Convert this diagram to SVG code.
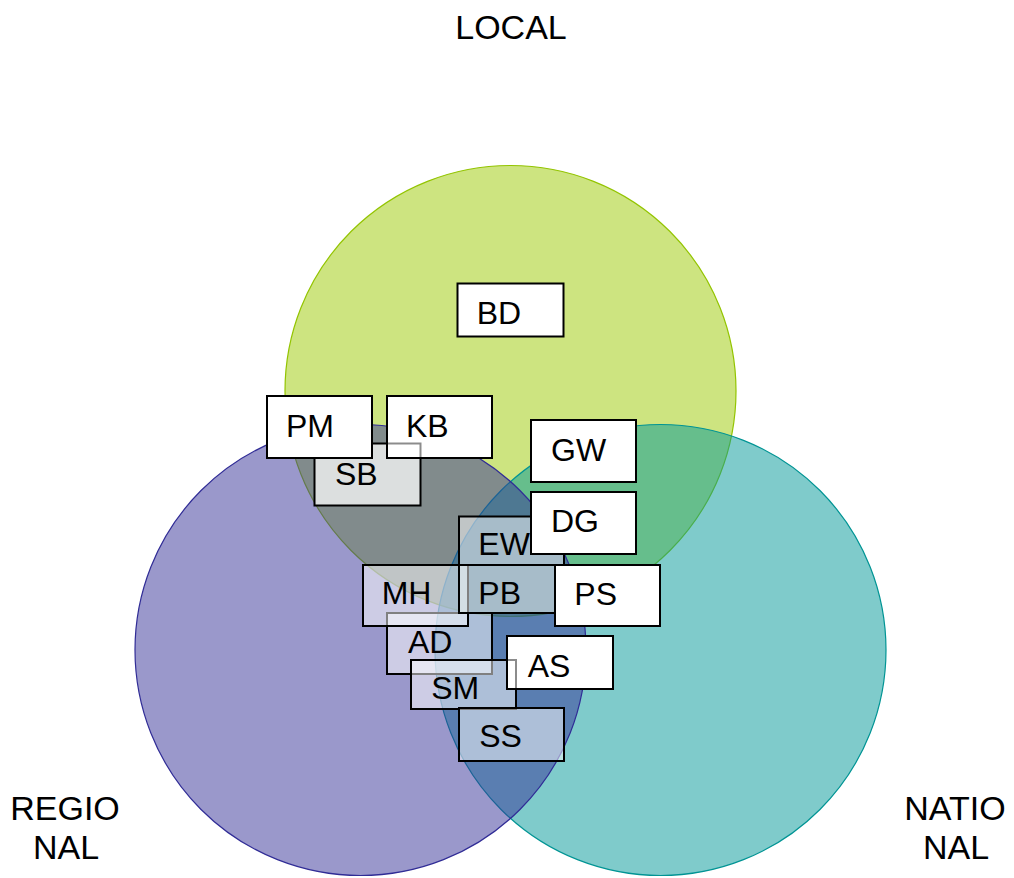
<svg xmlns="http://www.w3.org/2000/svg" width="1014" height="878" viewBox="0 0 1014 878">
<style>
.set{fill-opacity:0.5;stroke-width:1.2}
.title{font-family:"Liberation Sans",Arial,sans-serif;font-size:34px;fill:#000;text-anchor:middle}
.lbl{font-family:"Liberation Sans",Arial,sans-serif;font-size:32px;fill:#000}
.box{fill:#fff;stroke:#000;stroke-width:2}
.tint .box{fill-opacity:0.5}
.edge{stroke:#000;stroke-opacity:0.45;stroke-width:2;fill:none}
</style>
<rect width="1014" height="878" fill="#fff"/>
<g id="sets">
  <circle id="set-local" class="set" cx="510.5" cy="391" r="225.5" fill="#9bc901" stroke="#93c400"/>
  <circle id="set-national" class="set" cx="660.5" cy="650" r="225.5" fill="#009797" stroke="#009494"/>
  <circle id="set-regional" class="set" cx="360.5" cy="650" r="225.5" fill="#353197" stroke="#302c96"/>
</g>
<g id="titles">
  <text class="title" x="511" y="38.5">LOCAL</text>
  <text class="title" x="65" y="819.5">REGIO</text>
  <text class="title" x="66" y="858.5">NAL</text>
  <text class="title" x="955" y="819.5">NATIO</text>
  <text class="title" x="956" y="858.5">NAL</text>
</g>
<g id="connectors"></g>
<g id="node-SB" class="tint"><rect class="box" x="314.5" y="443.5" width="106" height="62" style="fill-opacity:0.72"/><text class="lbl" x="335" y="484.5">SB</text></g>
<g id="node-EW" class="tint"><rect class="box" x="459" y="516.5" width="105" height="48.5"/><text class="lbl" x="478.3" y="554.5">EW</text></g>
<g id="node-AD" class="tint"><rect class="box" x="387" y="613" width="105" height="61"/><text class="lbl" x="408" y="653">AD</text></g>
<g id="node-MH" class="tint"><rect class="box" x="363" y="565" width="105" height="61"/><text class="lbl" x="381.7" y="603.5">MH</text></g>
<g id="node-PB" class="tint"><rect class="box" x="459" y="565" width="105" height="48"/><text class="lbl" x="478.3" y="603.5">PB</text></g>
<g id="node-SM" class="tint"><rect class="box" x="411" y="660" width="105" height="49"/><text class="lbl" x="431.2" y="698.5">SM</text></g>
<g id="node-SS" class="tint"><rect class="box" x="459" y="708" width="105" height="53"/><text class="lbl" x="479.2" y="746.5">SS</text></g>
<g id="node-BD"><rect class="box" x="457.5" y="283.5" width="106" height="53"/><text class="lbl" x="476.7" y="323.5">BD</text></g>
<g id="node-PM"><rect class="box" x="267" y="396" width="105" height="62"/><text class="lbl" x="286" y="436.5">PM</text></g>
<g id="node-KB"><rect class="box" x="387" y="396" width="105" height="62"/><text class="lbl" x="406" y="436.5">KB</text></g>
<g id="node-GW"><rect class="box" x="531" y="420" width="105" height="62"/><text class="lbl" x="551" y="460.5">GW</text></g>
<g id="node-DG"><rect class="box" x="531" y="492" width="105" height="62"/><text class="lbl" x="551" y="532">DG</text></g>
<g id="node-PS"><rect class="box" x="555" y="565" width="105" height="61"/><text class="lbl" x="574.3" y="604.5">PS</text></g>
<g id="node-AS"><rect class="box" x="507" y="636" width="106" height="53"/><text class="lbl" x="527.7" y="676.5">AS</text></g>
<g id="hidden-edges">
  <path class="edge" d="M388 443.5H420.5V457"/>
  <path class="edge" d="M508 660H516V688"/>
</g>
</svg>
